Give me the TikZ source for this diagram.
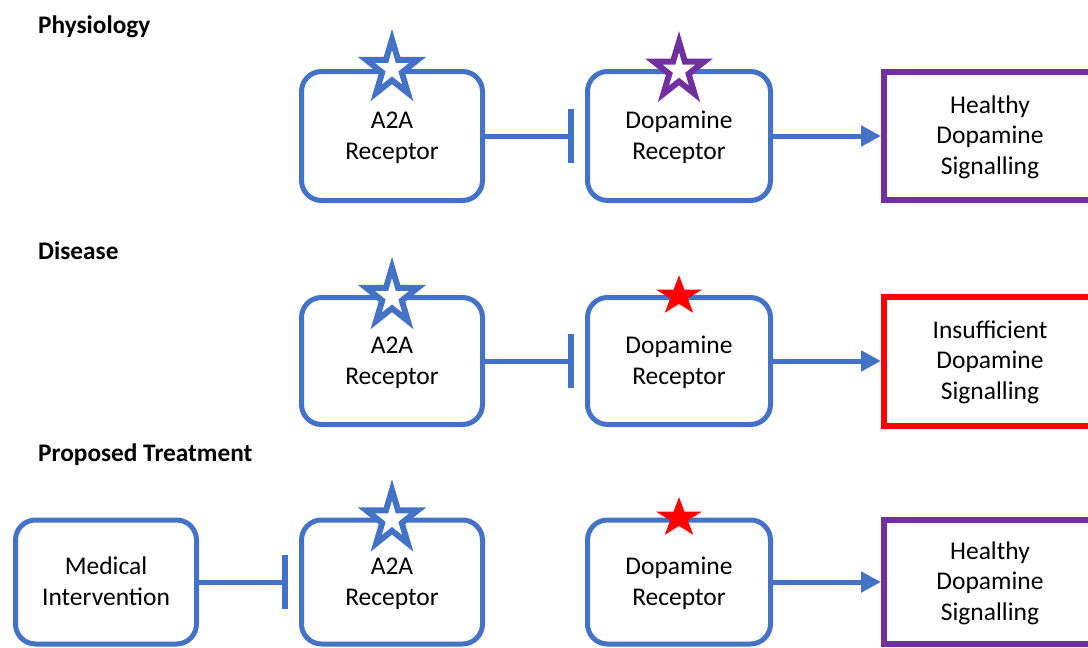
\documentclass[tikz,border=0pt]{standalone}
\usepackage{fontspec}
\setmainfont{Carlito}
\usetikzlibrary{arrows.meta}
\definecolor{oblue}{HTML}{4472C4}
\definecolor{opurple}{HTML}{7030A0}
\definecolor{ored}{HTML}{FF0000}
% text block whose first baseline sits (#1)/2 above the node centre
\newcommand\boxtext[2]{\raisebox{0pt}[0pt][#1pt]{\begin{tabular}[t]{@{}c@{}}#2\end{tabular}}}
% five-pointed star: style, centre x, centre y, x radius, y radius
\newcommand\ppstar[5]{\draw[#1,shift={(#2,#3)},xscale=#4,yscale=#5]
  (-90:1) -- (-54:0.382) -- (-18:1) -- (18:0.382) -- (54:1) -- (90:0.382)
  -- (126:1) -- (162:0.382) -- (198:1) -- (234:0.382) -- cycle;}
\begin{document}
\begin{tikzpicture}[x=1pt,y=-1pt,
  heading/.style={anchor=base west,inner sep=0pt,font=\bfseries\fontsize{25.3}{30}\selectfont},
  rbox/.style={draw=oblue,line width=5pt,rounded corners=20pt,fill=white,align=center,
    minimum width=181pt,minimum height=129pt,inner sep=0pt,font=\fontsize{25.5}{30.5}\selectfont},
  sbox/.style={line width=6pt,fill=white,align=center,
    minimum width=212pt,minimum height=128pt,inner sep=0pt,font=\fontsize{25.5}{30.5}\selectfont},
  ostar/.style={line width=6pt,fill=white,draw=#1},
  fstar/.style={fill=ored,draw=none},
  inhib/.style={draw=oblue,line width=5pt,-{Bar[width=54pt,line width=6pt]},shorten >=11pt},
  act/.style={draw=oblue,line width=5pt,-{Triangle[length=20pt,width=20pt]}}
]
\clip (0,0) rectangle (1088,648);
\useasboundingbox (0,0) rectangle (1088,648);

% headings
\node[heading] (h1) at (38,33) {Physiology};
\node[heading] (h2) at (38,259.5) {Disease};
\node[heading] (h3) at (38,461) {Proposed Treatment};

% row 1
\node[rbox] (a1) at (392,136) {\boxtext{15}{A2A\\Receptor}};
\node[rbox,minimum width=183pt] (d1) at (679,136) {\boxtext{15}{Dopamine\\Receptor}};
\node[sbox,draw=opurple] (s1) at (990,136) {\boxtext{46}{Healthy\\Dopamine\\Signalling}};
\ppstar{ostar=oblue}{392}{69}{27}{29.6}
\ppstar{ostar=opurple}{679}{70.5}{26.5}{28.8}
\draw[inhib] (a1.east) -- (d1.west);
\draw[act] (d1.east) -- (s1.west);

% row 2
\node[rbox,minimum height=127pt] (a2) at (392,361) {\boxtext{15}{A2A\\Receptor}};
\node[rbox,minimum width=183pt,minimum height=127pt] (d2) at (679,361) {\boxtext{15}{Dopamine\\Receptor}};
\node[sbox,draw=ored,minimum height=129pt] (s2) at (990,361) {\boxtext{46}{Insufficient\\Dopamine\\Signalling}};
\ppstar{ostar=oblue}{392}{297}{27}{29.6}
\ppstar{fstar}{679}{296}{24.2}{20.8}
\draw[inhib] (a2.east) -- (d2.west);
\draw[act] (d2.east) -- (s2.west);

% row 3
\node[rbox,minimum height=124pt] (m3) at (106,582) {\boxtext{15}{Medical\\Intervention}};
\node[rbox,minimum height=124pt] (a3) at (392,582) {\boxtext{15}{A2A\\Receptor}};
\node[rbox,minimum width=183pt,minimum height=124pt] (d3) at (679,582) {\boxtext{15}{Dopamine\\Receptor}};
\node[sbox,draw=opurple,minimum height=124pt] (s3) at (990,582) {\boxtext{46}{Healthy\\Dopamine\\Signalling}};
\ppstar{ostar=oblue}{392}{519.5}{27}{29.6}
\ppstar{fstar}{679}{518}{24.2}{20.8}
\draw[inhib] (m3.east) -- (a3.west);
\draw[act] (d3.east) -- (s3.west);
\end{tikzpicture}
\end{document}
